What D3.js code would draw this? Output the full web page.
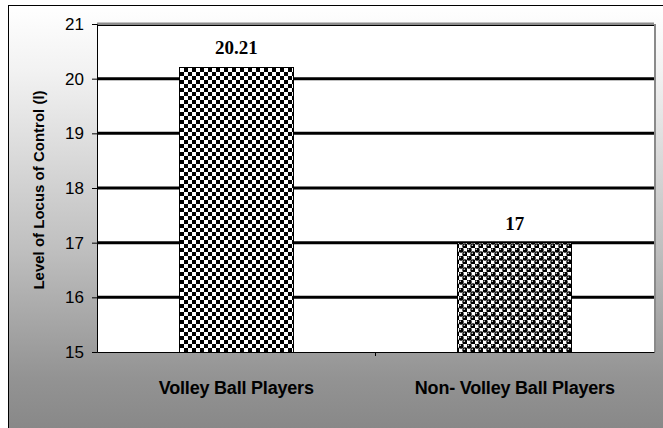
<!DOCTYPE html>
<html><head><meta charset="utf-8">
<script src="https://cdn.jsdelivr.net/npm/d3@7"></script>
<style>html,body{margin:0;padding:0;background:#fff;overflow:hidden}</style>
</head><body>
<script>
const categories = ["Volley Ball Players", "Non- Volley Ball Players"];
const values = [20.21, 17];
const valueLabels = ["20.21", "17"];
const yTicks = [15, 16, 17, 18, 19, 20, 21];
const yTitle = "Level of Locus of Control (l)";

const W = 663, H = 428;
const svg = d3.select("body").append("svg").attr("width", W).attr("height", H);
const defs = svg.append("defs");

const grad = defs.append("linearGradient").attr("id", "bg").attr("x1", 0).attr("y1", 0).attr("x2", 0).attr("y2", 1);
grad.append("stop").attr("offset", "0%").attr("stop-color", "#ffffff");
grad.append("stop").attr("offset", "15%").attr("stop-color", "#f2f2f2");
grad.append("stop").attr("offset", "55%").attr("stop-color", "#c0c0c0");
grad.append("stop").attr("offset", "85%").attr("stop-color", "#939393");
grad.append("stop").attr("offset", "100%").attr("stop-color", "#858585");

// checkerboard pattern
const P = 8;
const chk = defs.append("pattern").attr("id", "chk").attr("patternUnits", "userSpaceOnUse")
  .attr("width", P).attr("height", P).attr("x", 180).attr("y", 0);
chk.append("rect").attr("width", P).attr("height", P).attr("fill", "#fff");
chk.append("rect").attr("width", P/2).attr("height", P/2).attr("fill", "#000");
chk.append("rect").attr("x", P/2).attr("y", P/2).attr("width", P/2).attr("height", P/2).attr("fill", "#000");

// sphere pattern
const S = 8;
const sph = defs.append("pattern").attr("id", "sph").attr("patternUnits", "userSpaceOnUse")
  .attr("width", S).attr("height", S).attr("x", 459).attr("y", 0);
sph.append("rect").attr("width", S).attr("height", S).attr("fill", "#fff");
[[S/4, S/4], [3*S/4, 3*S/4]].forEach(([cx, cy]) => {
  sph.append("circle").attr("cx", cx).attr("cy", cy).attr("r", 2.7).attr("fill", "#000");
  sph.append("circle").attr("cx", cx - 0.7).attr("cy", cy - 0.8).attr("r", 0.8).attr("fill", "#e0e0e0");
});

// background
svg.append("rect").attr("x", 0).attr("y", 0).attr("width", W).attr("height", H).attr("fill", "#fff");
svg.append("rect").attr("x", 8.5).attr("y", 5.5).attr("width", W + 10).attr("height", H + 10)
  .attr("fill", "url(#bg)").attr("stroke", "#000").attr("stroke-width", 1);

const m = {left: 97, right: 654, top: 24, bottom: 352};
const x = d3.scaleBand().domain(categories).range([m.left, m.right]).paddingInner(0.59).paddingOuter(0.295);
const y = d3.scaleLinear().domain([15, 21]).range([m.bottom, m.top]);

// plot area
svg.append("rect").attr("x", m.left).attr("y", m.top).attr("width", m.right - m.left).attr("height", m.bottom - m.top)
  .attr("fill", "#fff");
// right gray border (shadow)
svg.append("line").attr("x1", m.right + 1).attr("x2", m.right + 1).attr("y1", m.top).attr("y2", m.bottom)
  .attr("stroke", "#8a8a8a").attr("stroke-width", 2);

// gridlines
svg.append("g").selectAll("line").data(yTicks.filter(d => d > 15)).join("line")
  .attr("x1", m.left).attr("x2", m.right)
  .attr("y1", d => y(d)).attr("y2", d => y(d))
  .attr("stroke", d => d === 21 ? "#8c8c8c" : "#000")
  .attr("stroke-width", 3);
svg.append("line").attr("x1", m.left).attr("x2", m.right).attr("y1", y(21) + 1.5).attr("y2", y(21) + 1.5)
  .attr("stroke", "#000").attr("stroke-width", 1);

// bars
const fills = ["url(#chk)", "url(#sph)"];
svg.append("g").selectAll("rect").data(values).join("rect")
  .attr("x", (d, i) => x(categories[i]))
  .attr("y", d => y(d))
  .attr("width", x.bandwidth())
  .attr("height", d => y(15) - y(d))
  .attr("fill", (d, i) => fills[i])
  .attr("stroke", "#000").attr("stroke-width", 1)
  .attr("shape-rendering", "crispEdges");

const sans = "Arial, 'Liberation Sans', sans-serif";
// y axis
const yAxis = d3.axisLeft(y).tickValues(yTicks).tickSize(5).tickPadding(8).tickFormat(d3.format("d"));
const gy = svg.append("g").attr("transform", `translate(${m.left},0)`).call(yAxis);
gy.attr("font-size", null).attr("font-family", null);
gy.select(".domain").attr("stroke", "#000").attr("stroke-width", 1);
gy.selectAll(".tick line").attr("stroke", "#000");
gy.selectAll(".tick text").style("font-family", sans).style("font-size", "17px").attr("fill", "#000");

// x axis
const xAxis = d3.axisBottom(x).tickSize(0).tickPadding(29);
const gx = svg.append("g").attr("transform", `translate(0,${m.bottom})`).call(xAxis);
gx.attr("font-size", null).attr("font-family", null);
gx.select(".domain").attr("stroke", "#000").attr("stroke-width", 1);
gx.selectAll(".tick text").style("font-family", sans)
  .style("font-size", "18px").style("font-weight", "bold").attr("fill", "#000").style("letter-spacing", "-0.2px");
// middle tick
svg.append("line").attr("x1", (m.left + m.right) / 2).attr("x2", (m.left + m.right) / 2)
  .attr("y1", m.bottom).attr("y2", m.bottom + 4).attr("stroke", "#000");

// value labels
svg.append("g").selectAll("text").data(values).join("text")
  .attr("x", (d, i) => x(categories[i]) + x.bandwidth() / 2)
  .attr("y", d => y(d) - 13)
  .attr("text-anchor", "middle")
  .style("font-family", "'Times New Roman', 'Liberation Serif', serif")
  .style("font-weight", "bold").style("font-size", "19px")
  .text((d, i) => valueLabels[i]);

// y title
svg.append("text")
  .attr("transform", `translate(44,${(m.top + m.bottom) / 2 + 2}) rotate(-90)`)
  .attr("text-anchor", "middle")
  .style("font-family", sans)
  .style("font-weight", "bold").style("font-size", "15px")
  .text(yTitle);
</script>
</body></html>
